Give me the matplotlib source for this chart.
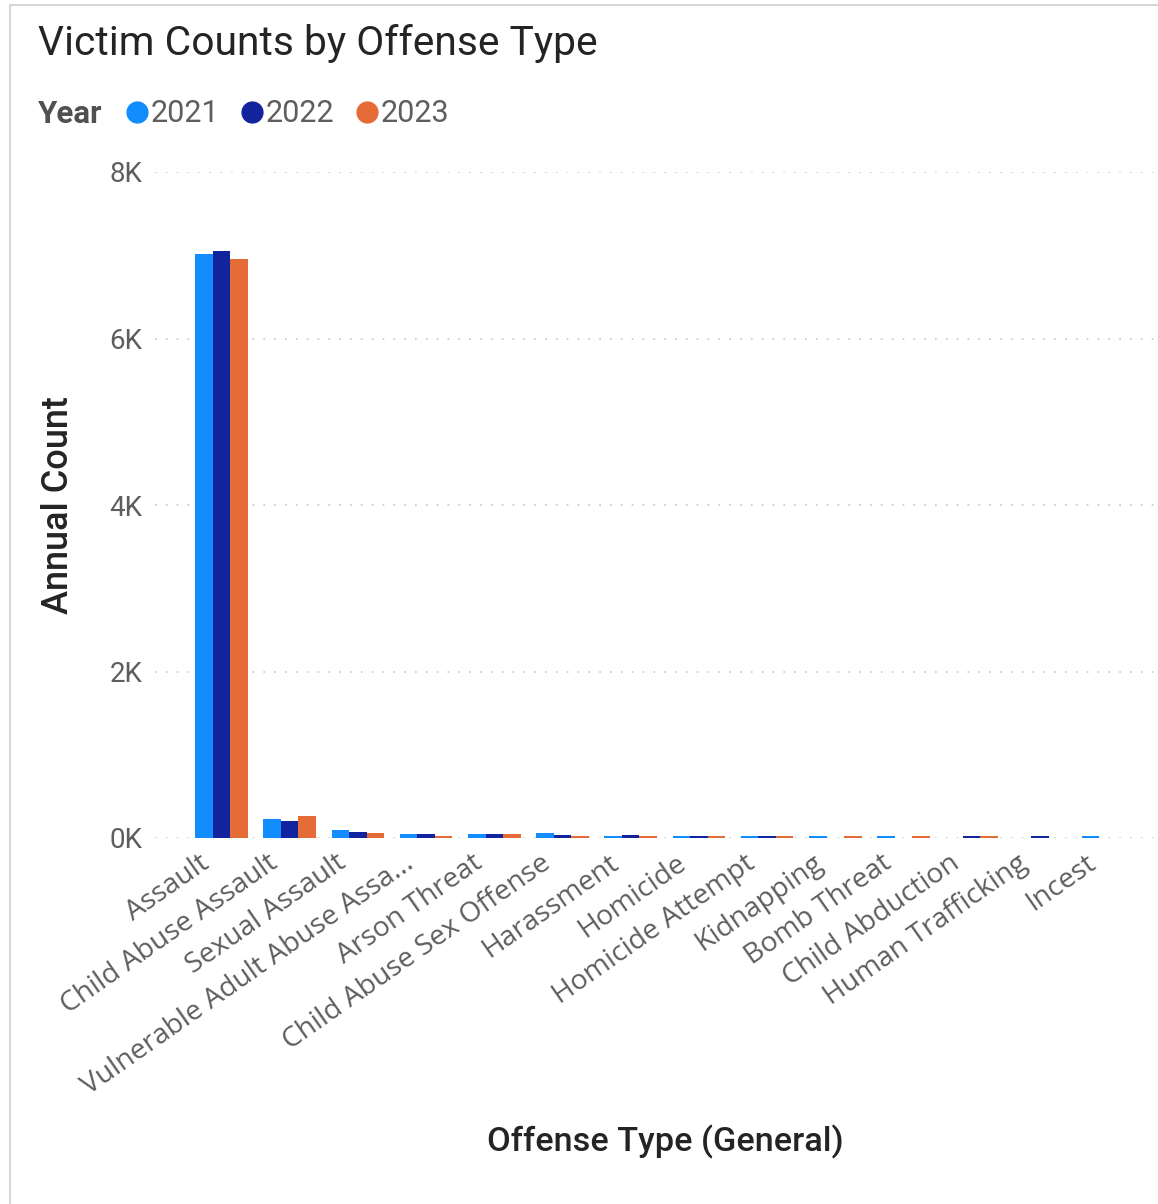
import matplotlib
matplotlib.use("Agg")
import matplotlib.pyplot as plt
import numpy as np
from matplotlib.lines import Line2D
from matplotlib.patches import Rectangle
from matplotlib.transforms import ScaledTranslation
from matplotlib.ticker import FuncFormatter

categories = ["Assault", "Child Abuse Assault", "Sexual Assault",
              "Vulnerable Adult Abuse Assa...", "Arson Threat",
              "Child Abuse Sex Offense", "Harassment", "Homicide",
              "Homicide Attempt", "Kidnapping", "Bomb Threat",
              "Child Abduction", "Human Trafficking", "Incest"]
years = ["2021", "2022", "2023"]
v2021 = [7020, 228, 100, 48, 45, 60, 28, 26, 26, 25, 25, 0, 0, 25]
v2022 = [7050, 208, 70, 50, 45, 40, 32, 30, 30, 0, 0, 28, 28, 0]
v2023 = [6960, 261, 65, 24, 45, 24, 22, 24, 24, 25, 25, 25, 0, 0]
colors = ["#118DFF", "#12239E", "#E66C37"]
yticks = [0, 2000, 4000, 6000, 8000]

W, H = 1158, 1204
fig = plt.figure(figsize=(W / 100, H / 100), dpi=100)
fig.patch.set_facecolor("white")

# card border
fig.add_artist(Rectangle((10 / W, -0.01), 1.05, 1 - 5 / H + 0.01,
                         transform=fig.transFigure, fill=False,
                         edgecolor="#D6D6D6", linewidth=1.5))

ax_l, ax_r = 155, 1158
ax_b, ax_t = 838, 172
ax = fig.add_axes([ax_l / W, 1 - ax_b / H, (ax_r - ax_l) / W, (ax_b - ax_t) / H])
ax.set_facecolor("none")

x = np.arange(len(categories))
bw = 0.257
for i, (vals, c, yr) in enumerate(zip([v2021, v2022, v2023], colors, years)):
    ax.bar(x + (i - 1) * bw, vals, width=bw, color=c, label=yr, zorder=3)

spacing = 68.2
c0 = 221.5
ax.set_xlim((ax_l - c0) / spacing, (ax_r - c0) / spacing)
ax.set_ylim(0, 8000)

for s in ax.spines.values():
    s.set_visible(False)

ax.set_yticks(yticks)
ax.yaxis.set_major_formatter(FuncFormatter(lambda v, p: f"{int(v/1000)}K"))
ax.tick_params(axis="y", length=0, pad=9, labelsize=20, labelcolor="#605E5C")
for lab in ax.get_yticklabels():
    lab.set_family("Roboto")

ax.grid(axis="y", color="#CFCFCF", linestyle=(0, (1, 5)), linewidth=1.3, zorder=0)
ax.grid(axis="x", visible=False)

ax.set_xticks(x)
ax.set_xticklabels(categories, rotation=35, ha="right", va="top",
                   rotation_mode="anchor", fontsize=20.3, color="#605E5C",
                   family="Open Sans")
ax.tick_params(axis="x", length=0, pad=8)
off = ScaledTranslation(-23 / 100, 0, fig.dpi_scale_trans)
for lab in ax.get_xticklabels():
    lab.set_transform(lab.get_transform() + off)

# titles
fig.text(38 / W, 1 - 55 / H, "Victim Counts by Offense Type", ha="left",
         va="baseline", fontsize=29.3, color="#252423", family="Roboto")
fig.text(58 / W, 1 - 505 / H, "Annual Count", rotation=90, ha="center",
         va="center", fontsize=26, color="#252423", family="Roboto",
         fontweight="medium")
fig.text(665 / W, 1 - 1142 / H, "Offense Type (General)", ha="center",
         va="center", fontsize=24.7, color="#252423", family="Roboto",
         fontweight="medium")

# legend
fig.text(38 / W, 1 - 114 / H, "Year", ha="left", va="center", fontsize=22.5,
         color="#505050", family="Roboto", fontweight="bold")
handles = [Line2D([], [], marker="o", linestyle="", color=c, markersize=15)
           for c in colors]
leg = fig.legend(handles, years, loc="center left",
                 bbox_to_anchor=(120 / W, 1 - 114 / H), ncol=3, frameon=False,
                 handletextpad=-0.1, columnspacing=0.52, handlelength=1.1,
                 borderpad=0, borderaxespad=0,
                 prop={"family": "Roboto", "size": 22})
for t in leg.get_texts():
    t.set_color("#605E5C")

fig.savefig("out.png", dpi=100, facecolor="white")
